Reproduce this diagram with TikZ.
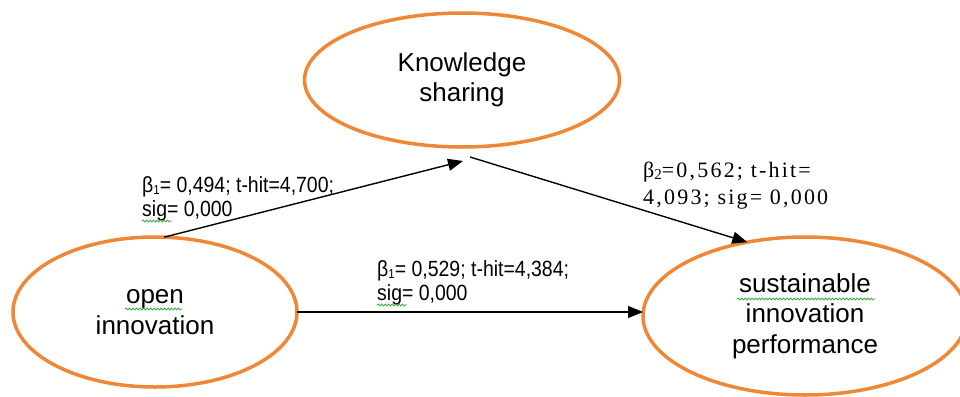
\documentclass[tikz,border=0pt]{standalone}
\usepackage{fontspec}
\setmainfont{Liberation Sans}
\newfontfamily\narrowsans[FakeStretch=0.885]{Liberation Sans}
\newfontfamily\tnr[LetterSpace=10]{Liberation Serif}
\usetikzlibrary{shapes.geometric,arrows.meta,decorations.pathmorphing}
\definecolor{ora}{RGB}{240,135,55}
\definecolor{wavy}{RGB}{60,170,60}
\newcommand{\mysub}[1]{\raisebox{-2.5pt}{\fontsize{13}{13}\selectfont #1}}
\begin{document}
\begin{tikzpicture}[x=1pt,y=-1pt,
  var/.style={ellipse, draw=ora, line width=3.5pt, inner sep=0pt, outer sep=0pt, align=center, font=\fontsize{26}{30.5}\selectfont},
  lab/.style={anchor=base west, align=left, inner sep=0pt, font=\narrowsans\fontsize{22}{24}\selectfont},
  arr/.style={line width=1.4pt, -{Triangle[length=15pt,width=12pt]}},
  spell/.style={draw=wavy, line width=0.8pt, decorate, decoration={snake, amplitude=1pt, segment length=3.5pt}}]
\useasboundingbox (0,0) rectangle (960,396);
\clip (0,0) rectangle (960,396);
\node[var, minimum width=315pt, minimum height=134pt] (ks) at (462,80) {Knowledge\\sharing};
\node[var, minimum width=284pt, minimum height=150pt] (oi) at (155,312) {open\\innovation};
\node[var, minimum width=324pt, minimum height=158pt] (sip) at (805,316) {sustainable\\innovation\\performance};
\coordinate (ksin) at (463,161);
\coordinate (ksout) at (470,157);
\draw[arr] (oi.83) -- (ksin);
\draw[arr] (ksout) -- (sip.128);
\draw[arr] (oi.east) -- (oi.east -| sip.west);
\node[lab] (l1) at (142,216) {β\mysub{1}= 0,494; t-hit=4,700;\\sig= 0,000};
\node[lab] (l3) at (377,300) {β\mysub{1}= 0,529; t-hit=4,384;\\sig= 0,000};
\node[lab, font=\tnr\fontsize{22}{27}\selectfont] (l2) at (643,204) {β\raisebox{-2pt}{\fontsize{15}{15}\selectfont 2}=0,562; t-hit=\\4,093; sig= 0,000};
\draw[spell] (142,221) -- (172,221);
\draw[spell] (377,305) -- (407,305);
\draw[spell] (125,309) -- (182,309);
\draw[spell] (737,299) -- (875,299);
\end{tikzpicture}
\end{document}
